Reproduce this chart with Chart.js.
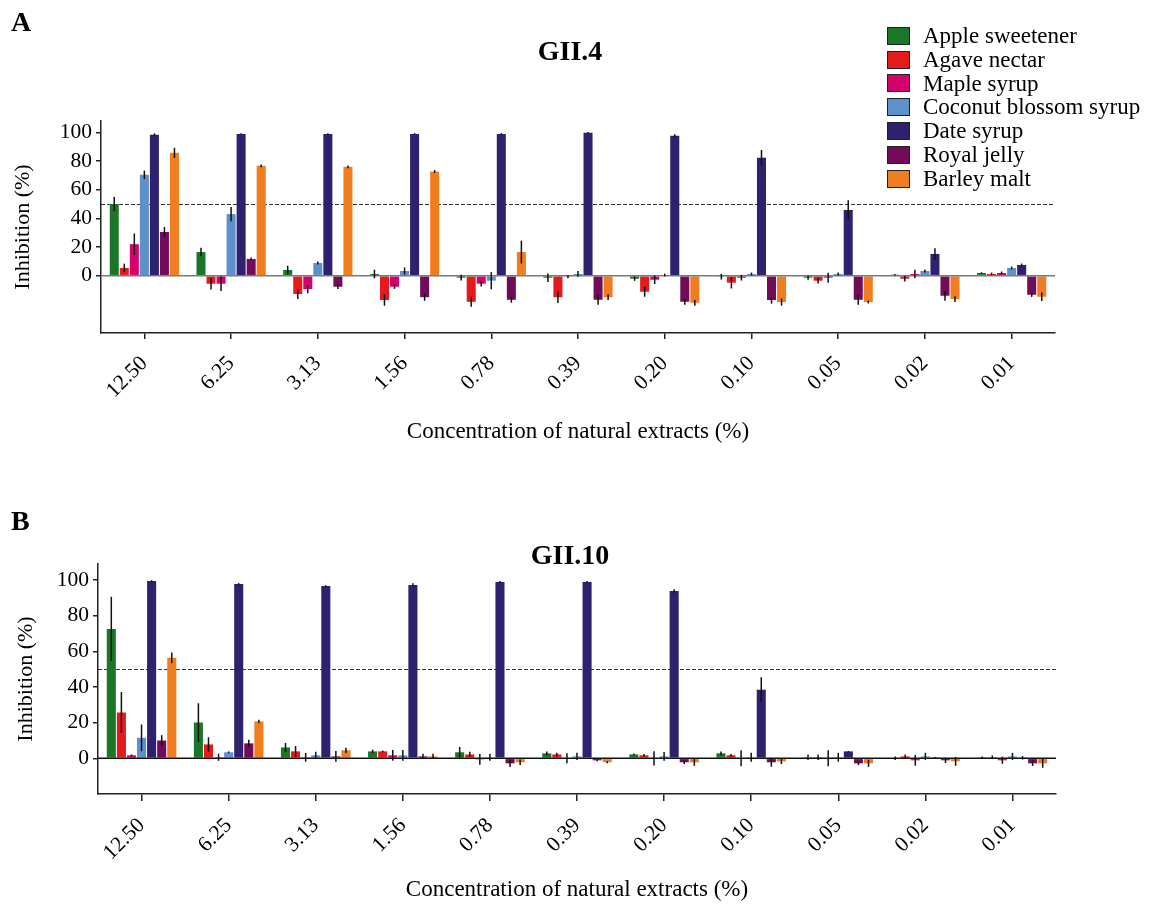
<!DOCTYPE html>
<html>
<head>
<meta charset="utf-8">
<script src="https://cdn.jsdelivr.net/npm/chart.js@4.4.1/dist/chart.umd.min.js"></script>
<style>
  body { margin: 0; background: #fff; font-family: 'Liberation Serif', 'Times New Roman', serif; color: #000; }
  #wrap { position: relative; width: 1159px; height: 908px; }
  canvas { position: absolute; left: 0; }
  #chartA { top: 0; }
  #chartB { top: 454px; }
  .panel { position: absolute; left: 11px; font-size: 28px; font-weight: bold; line-height: 28px; }
  .ptitle { position: absolute; left: 420px; width: 300px; text-align: center; font-size: 28px; font-weight: bold; line-height: 28px; }
  #legend { position: absolute; left: 887px; top: 24px; }
  .item { display: flex; align-items: center; height: 23.8px; font-size: 23px; white-space: nowrap; }
  .box { width: 21px; height: 16px; border: 1px solid #222; margin-right: 13px; }
</style>
</head>
<body>
<div id="wrap">
  <canvas id="chartA" width="1159" height="454"></canvas>
  <canvas id="chartB" width="1159" height="454"></canvas>
  <div class="panel" style="top:8px">A</div>
  <div class="panel" style="top:507px">B</div>
  <div class="ptitle" id="titleA" style="top:37px"></div>
  <div class="ptitle" id="titleB" style="top:541px"></div>
  <div id="legend"></div>
</div>
<script>
// ===== sweetener extracts vs norovirus VLP binding =====

const concentrations = ['12.50', '6.25', '3.13', '1.56', '0.78', '0.39', '0.20', '0.10', '0.05', '0.02', '0.01'];
const seriesNames = ['Apple sweetener', 'Agave nectar', 'Maple syrup', 'Coconut blossom syrup', 'Date syrup', 'Royal jelly', 'Barley malt'];
const seriesColors = ['#1c7628', '#e41a1c', '#d4006b', '#5e91cb', '#2e2170', '#720c58', '#f07d20'];
const yTickValues = [0, 20, 40, 60, 80, 100];
const cutoff = 50;

// --- GII.4 (one row per extract, same order as seriesNames) ---
const gii4Mean = [
  [50, 16.5, 4, 1.2, -1.4, -1.4, -2.1, -0.7, -1.4, 0.7, 1.9],
  [5.4, -5.6, -12.8, -17, -18.2, -15, -11.2, -4.9, -3.5, -2.1, 1.2],
  [22, -5.6, -9.3, -7.7, -5.6, -0.7, -2.8, -1.4, -1.4, 1.2, 1.9],
  [70.4, 43, 8.9, 3.3, -3.5, 1.2, 0.5, 1.2, 1.2, 3.3, 5.4],
  [98.4, 99, 99, 99, 99, 99.8, 97.7, 82.3, 45.9, 15.2, 7.5],
  [30.5, 11.7, -7.7, -15, -16.8, -16.8, -18.2, -17, -16.8, -14, -13.3],
  [85.8, 76.7, 76, 72.7, 16.5, -15, -18.9, -18.4, -18.4, -16.3, -14.7]
];
const gii4Err = [
  [5, 3, 3, 3, 2, 3, 1.5, 2, 1.5, 0.5, 0.5],
  [3, 4, 3.5, 4, 3.5, 4, 3.5, 4, 2, 2, 1],
  [7.5, 5, 3, 1.5, 2, 1, 3, 2, 3.5, 3, 1],
  [3, 5, 1, 2.5, 6, 2, 1, 1, 1, 1, 1],
  [1, 0.5, 0.5, 0.5, 0.5, 0.5, 1, 5.5, 6.8, 4, 1],
  [3.5, 1, 1.5, 2.5, 2, 3.5, 2, 2.5, 3.5, 3.5, 1.5],
  [3.5, 1, 1, 1, 8, 2, 2, 2.5, 1, 2, 3]
];

// --- GII.10 ---
const gii10Mean = [
  [72.6, 20.1, 6.1, 3.9, 3.4, 2.8, 2.2, 2.8, 0.6, 0, 0.6],
  [25.7, 7.8, 3.9, 3.9, 2.2, 2.2, 1.7, 1.7, 0.6, 1.1, 0.6],
  [1.7, 0.6, 0.6, 1.7, -0.6, 0, 0, 0, 0, -1.1, -1.1],
  [11.5, 3.4, 1.7, 1.7, 0.6, 1.1, 1.1, 0.6, 0.6, 1.1, 1.1],
  [99.4, 97.8, 96.6, 97.2, 98.9, 98.9, 93.9, 38.5, 3.9, 0.3, 0.3],
  [10, 8.4, 1.1, 1.1, -2.8, -1.1, -2.2, -2.2, -2.8, -1.1, -2.8],
  [56.4, 20.7, 4.5, 1.1, -2.2, -2.2, -2.2, -1.7, -2.8, -1.7, -2.8]
];
const gii10Err = [
  [18, 10.8, 2.5, 1, 3, 1, 0.5, 1, 1.5, 1, 0.5],
  [11.5, 4, 3, 0.5, 1.5, 1, 0.8, 0.8, 1.5, 1, 1],
  [0.5, 2, 2.5, 3, 3, 2.8, 4, 4.5, 4.5, 3, 2],
  [7.5, 0.5, 2, 3, 2, 2, 2.5, 2.5, 2.5, 2, 2],
  [0.5, 0.5, 0.5, 1, 0.5, 0.5, 1, 7, 0.3, 0.5, 1],
  [3, 2, 3, 1.5, 2, 0.5, 1, 2.5, 1, 1.5, 1.5],
  [3, 1, 1.5, 1.5, 1.5, 0.5, 2, 1.5, 2, 2.5, 2.5]
];

Chart.defaults.font.family = "'Liberation Serif', 'Times New Roman', serif";
Chart.defaults.color = '#000';

// dashed 50% line behind the bars, zero line + error bars on top
const refLines = {
  id: 'refLines',
  beforeDatasetsDraw(chart) {
    const { ctx, chartArea: a, scales: { y } } = chart;
    const py = Math.round(y.getPixelForValue(cutoff)) + 0.5;
    ctx.save();
    ctx.strokeStyle = '#333';
    ctx.lineWidth = 1.2;
    ctx.setLineDash([4, 2]);
    ctx.beginPath();
    ctx.moveTo(a.left, py);
    ctx.lineTo(a.right, py);
    ctx.stroke();
    ctx.restore();
  },
  afterDatasetsDraw(chart, args, opts) {
    const { ctx, chartArea: a, scales: { y } } = chart;
    ctx.save();
    const p0 = y.getPixelForValue(0);
    ctx.strokeStyle = opts.zeroColor || '#222';
    ctx.lineWidth = 1.5;
    ctx.beginPath();
    ctx.moveTo(a.left, p0);
    ctx.lineTo(a.right, p0);
    ctx.stroke();

    ctx.strokeStyle = '#111';
    ctx.lineWidth = 1.5;
    chart.data.datasets.forEach((ds, i) => {
      const meta = chart.getDatasetMeta(i);
      meta.data.forEach((bar, j) => {
        const v = ds.data[j], e = ds.errors[j];
        if (!e) return;
        ctx.beginPath();
        ctx.moveTo(bar.x, y.getPixelForValue(v - e));
        ctx.lineTo(bar.x, y.getPixelForValue(v + e));
        ctx.stroke();
      });
    });
    ctx.restore();
  }
};

function makePanel(id, title, means, errs, lay) {
  const datasets = seriesNames.map((name, i) => ({
    label: name,
    data: means[i],
    errors: errs[i],
    backgroundColor: seriesColors[i],
    borderWidth: 0,
    categoryPercentage: 0.81,
    barPercentage: 0.9
  }));

  document.getElementById(lay.titleId).textContent = title;

  return new Chart(document.getElementById(id), {
    type: 'bar',
    data: { labels: concentrations, datasets },
    plugins: [refLines],
    options: {
      responsive: false,
      animation: false,
      layout: { padding: { left: 0, right: lay.right, top: lay.top, bottom: 0 } },
      plugins: {
        legend: { display: false },
        tooltip: { enabled: false },
        refLines: { zeroColor: lay.zeroColor }
      },
      scales: {
        x: {
          offset: true,
          grid: { display: true, drawOnChartArea: false, offset: false, tickLength: lay.xTick, color: '#222', lineWidth: 1.5 },
          border: { display: true, color: '#222', width: 1.5 },
          ticks: { autoSkip: false, minRotation: 45, maxRotation: 45, padding: 12, font: { size: 21.5 }, color: '#000' },
          title: {
            display: true,
            text: 'Concentration of natural extracts (%)',
            font: { size: 23 },
            color: '#000',
            padding: { top: 0, bottom: lay.xTitlePad }
          },
          afterFit: s => { s.height = lay.xHeight; }
        },
        y: {
          min: lay.yMin,
          max: lay.yMax,
          afterBuildTicks: s => { s.ticks = yTickValues.map(v => ({ value: v })); },
          grid: { drawOnChartArea: false, tickLength: 5, color: '#222', lineWidth: 1.5 },
          border: { display: true, color: '#222', width: 1.5 },
          ticks: { padding: 4, font: { size: 21.5 }, color: '#000' },
          title: {
            display: true,
            text: 'Inhibition (%)',
            font: { size: 22 },
            color: '#000',
            padding: { top: lay.yTitlePad, bottom: 0 }
          },
          afterFit: s => { s.width = lay.yWidth; }
        }
      }
    }
  });
}

makePanel('chartA', 'GII.4', gii4Mean, gii4Err, {
  titleId: 'titleA', top: 121, right: 104, xTick: 6, xHeight: 121, xTitlePad: 8.2,
  yMin: -40, yMax: 108, yWidth: 101, yTitlePad: 10.1, zeroColor: '#7a7a7a'
});

makePanel('chartB', 'GII.10', gii10Mean, gii10Err, {
  titleId: 'titleB', top: 110, right: 103, xTick: 7, xHeight: 114, xTitlePad: 4.2,
  yMin: -20, yMax: 109, yWidth: 98, yTitlePad: 12.6, zeroColor: '#111'
});

// --- LEGEND ---
const legend = document.getElementById('legend');
seriesNames.forEach((name, i) => {
  const row = document.createElement('div');
  row.className = 'item';
  row.innerHTML = `<span class="box" style="background:${seriesColors[i]}"></span>${name}`;
  legend.appendChild(row);
});
</script>
</body>
</html>
